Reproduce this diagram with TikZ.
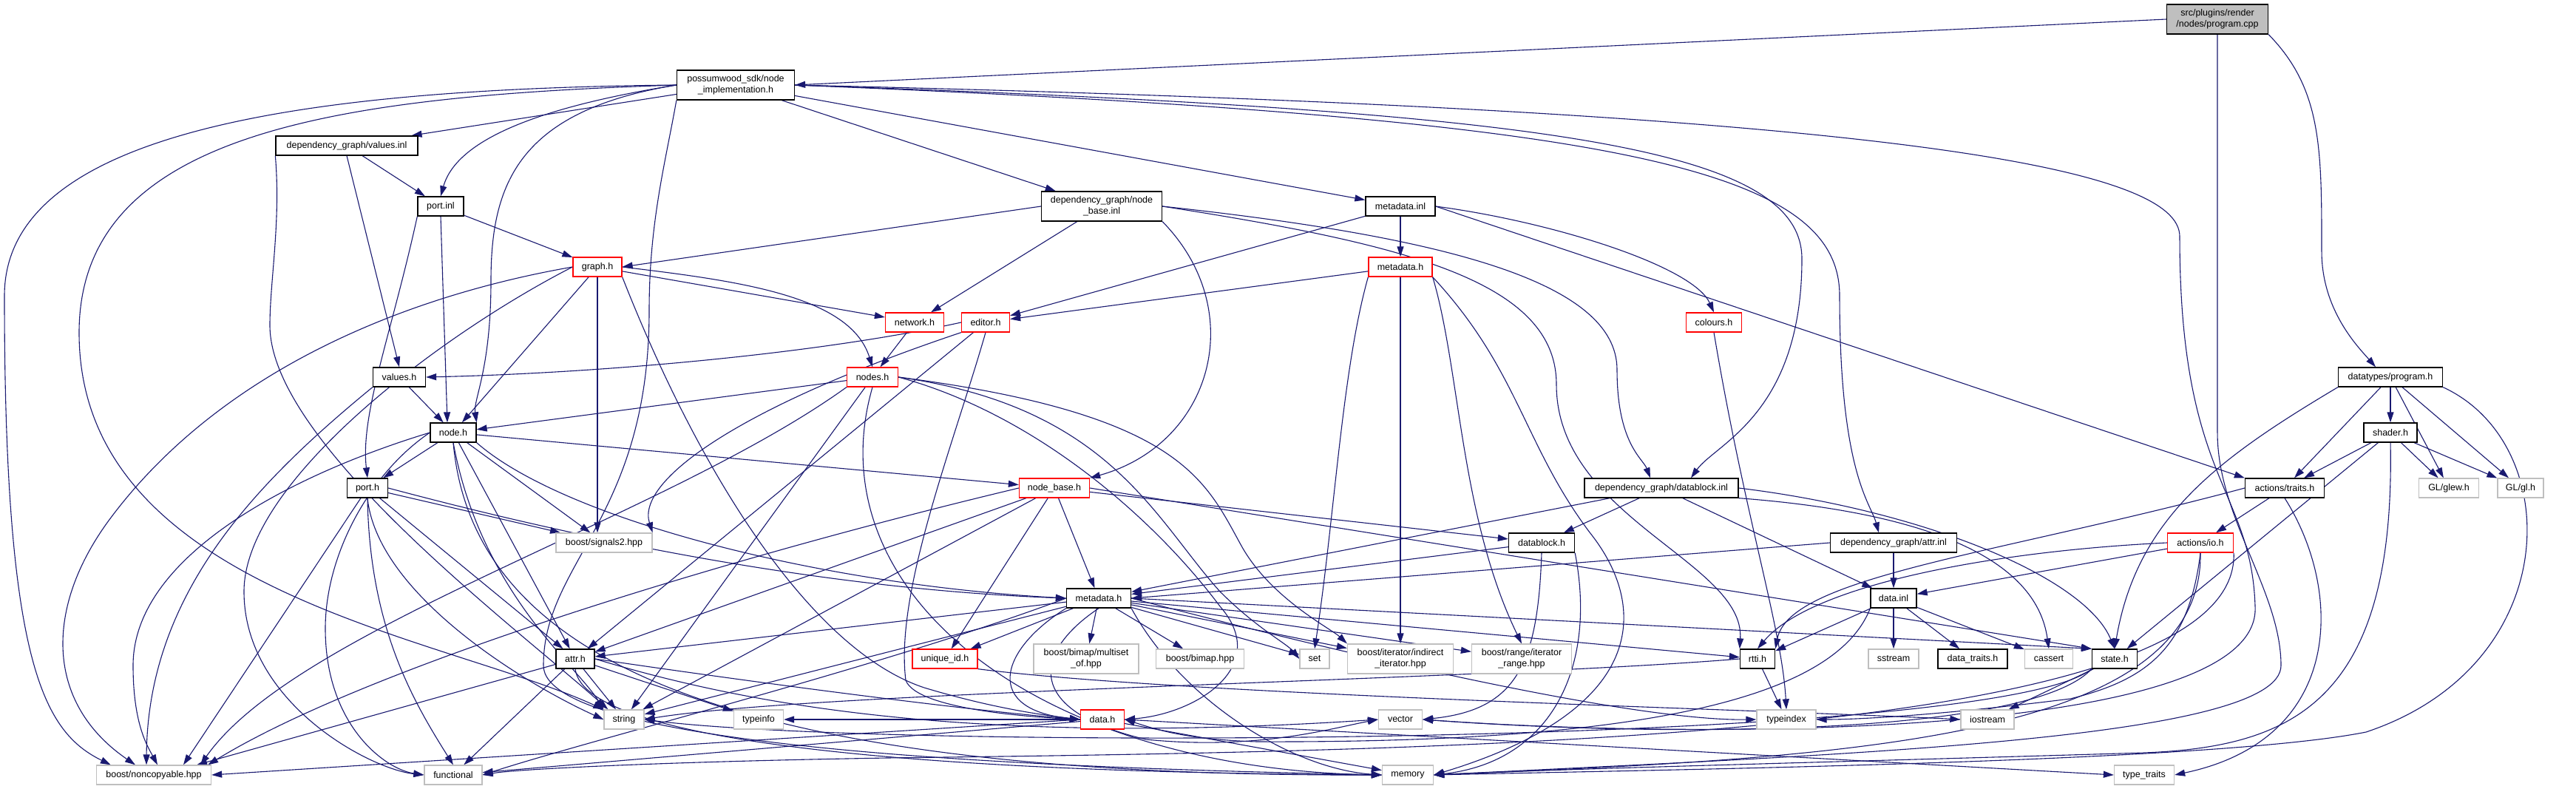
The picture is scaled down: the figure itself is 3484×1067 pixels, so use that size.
\documentclass[tikz,border=0pt]{standalone}
\usepackage{fontspec}
\setmainfont{Liberation Sans}
\usetikzlibrary{arrows.meta}
\definecolor{edgec}{HTML}{191970}
\definecolor{grayb}{HTML}{BFBFBF}
\definecolor{redb}{HTML}{FF0000}
\newcommand{\nodefont}{\fontsize{12.5}{15}\selectfont}
\pgfdeclarelayer{bglayer}
\pgfdeclarelayer{edgelayer}
\pgfsetlayers{bglayer,edgelayer,main}
\begin{document}
\begin{tikzpicture}[x=1pt,y=-1pt,
 box/.style={draw=black, fill=white, line width=1.3pt, inner sep=0pt, minimum height=26pt, font=\nodefont, align=center},
 rbox/.style={box, draw=redb},
 gbox/.style={box, draw=grayb},
 tall/.style={minimum height=40pt},
 edg/.style={draw=edgec, line width=1.1pt, -{Triangle[length=14pt,width=9pt]}}]
\useasboundingbox (0,0) rectangle (3484,1067);
\begin{pgfonlayer}{bglayer}
\fill[white] (0,0) rectangle (3484,1067);
\end{pgfonlayer}
% nodes
\node[box, fill=grayb, tall, minimum width=137pt] (root) at (2999,26) {src/plugins/render\\/nodes/program.cpp};
\node[box, tall, minimum width=159pt] (pw) at (995,115) {possumwood\_sdk/node\\\_implementation.h};
\node[box, minimum width=192pt] (valinl) at (469,197) {dependency\_graph/values.inl};
\node[box, minimum width=62pt] (portinl) at (596,279) {port.inl};
\node[box, tall, minimum width=163pt] (nbinl) at (1490,279) {dependency\_graph/node\\\_base.inl};
\node[box, minimum width=94pt] (mdinl) at (1894,279) {metadata.inl};
\node[rbox, minimum width=66pt] (graphh) at (808,361) {graph.h};
\node[rbox, minimum width=86pt] (mdha) at (1894,361) {metadata.h};
\node[rbox, minimum width=79pt] (networkh) at (1237,436) {network.h};
\node[rbox, minimum width=65pt] (editorh) at (1333,436) {editor.h};
\node[rbox, minimum width=75pt] (coloursh) at (2318,436) {colours.h};
\node[box, minimum width=71pt] (valuesh) at (540,510) {values.h};
\node[rbox, minimum width=69pt] (nodesh) at (1180,510) {nodes.h};
\node[box, minimum width=141pt] (programh) at (3233,510) {datatypes/program.h};
\node[box, minimum width=62pt] (nodeh) at (613,585) {node.h};
\node[box, minimum width=72pt] (shaderh) at (3233,585) {shader.h};
\node[box, minimum width=55pt] (porth) at (497,660) {port.h};
\node[rbox, minimum width=95pt] (nodebaseh) at (1426,660) {node\_base.h};
\node[box, minimum width=208pt] (dbinl) at (2247,660) {dependency\_graph/datablock.inl};
\node[box, minimum width=107pt] (traitsh) at (3090,660) {actions/traits.h};
\node[gbox, minimum width=81pt] (glew) at (3312,660) {GL/glew.h};
\node[gbox, minimum width=62pt] (gl) at (3409,660) {GL/gl.h};
\node[gbox, minimum width=130pt] (signals) at (817,734) {boost/signals2.hpp};
\node[box, minimum width=89pt] (datablockh) at (2085,734) {datablock.h};
\node[box, minimum width=171pt] (attrinl) at (2561,734) {dependency\_graph/attr.inl};
\node[rbox, minimum width=89pt] (ioh) at (2976,734) {actions/io.h};
\node[box, minimum width=87pt] (mdhb) at (1486,809) {metadata.h};
\node[box, minimum width=62pt] (datainl) at (2561,809) {data.inl};
\node[box, minimum width=52pt] (attrh) at (778,891) {attr.h};
\node[rbox, minimum width=88pt] (uniqueid) at (1278,891) {unique\_id.h};
\node[gbox, tall, minimum width=142pt] (multiset) at (1469,891) {boost/bimap/multiset\\\_of.hpp};
\node[gbox, minimum width=119pt] (bimap) at (1623,891) {boost/bimap.hpp};
\node[gbox, minimum width=40pt] (setn) at (1778,891) {set};
\node[gbox, tall, minimum width=143pt] (indirect) at (1894,891) {boost/iterator/indirect\\\_iterator.hpp};
\node[gbox, tall, minimum width=135pt] (range) at (2058,891) {boost/range/iterator\\\_range.hpp};
\node[box, minimum width=47pt] (rtti) at (2377,891) {rtti.h};
\node[gbox, minimum width=68pt] (sstream) at (2561,891) {sstream};
\node[box, minimum width=94pt] (datatraits) at (2668,891) {data\_traits.h};
\node[gbox, minimum width=65pt] (cassert) at (2771,891) {cassert};
\node[box, minimum width=61pt] (stateh) at (2860,891) {state.h};
\node[gbox, minimum width=54pt] (stringn) at (844,973) {string};
\node[gbox, minimum width=67pt] (typeinfo) at (1026,973) {typeinfo};
\node[rbox, minimum width=59pt] (datah) at (1491,973) {data.h};
\node[gbox, minimum width=59pt] (vector) at (1894,973) {vector};
\node[gbox, minimum width=80pt] (typeindex) at (2416,973) {typeindex};
\node[gbox, minimum width=72pt] (iostream) at (2688,973) {iostream};
\node[gbox, minimum width=155pt] (noncopy) at (208,1048) {boost/noncopyable.hpp};
\node[gbox, minimum width=78pt] (functional) at (613,1048) {functional};
\node[gbox, minimum width=69pt] (memory) at (1904,1048) {memory};
\node[gbox, minimum width=81pt] (typetraits) at (2900,1048) {type\_traits};
% edges
\begin{pgfonlayer}{edgelayer}
% root
\draw[edg] (root.west) -- (pw.east);
\draw[edg] (root.south) .. controls (2999,300) and (2999,500) .. (2999,585) .. controls (2999,700) and (3085,800) .. (3085,900) .. controls (3085,1000) and (2500,1020) .. (memory.east);
\draw[edg] (root.south east) .. controls (3140,120) and (3140,200) .. (3140,340) .. controls (3140,420) and (3190,470) .. ([xshift=-20pt]programh.north);
% possumwood
\draw[edg] (pw) -- (valinl);
\draw[edg] (pw.west) .. controls (760,140) and (620,180) .. (portinl.north);
\draw[edg] (pw.west) .. controls (700,150) and (664,250) .. (664,380) .. controls (664,500) and (640,540) .. (nodeh.north east);
\draw[edg] (pw) -- (nbinl);
\draw[edg] (pw) -- (mdinl);
\draw[edg] (pw.east) .. controls (2100,150) and (2437,200) .. (2437,350) .. controls (2437,560) and (2320,600) .. ([xshift=40pt]dbinl.north);
\draw[edg] (pw.east) .. controls (2200,160) and (2488,230) .. (2488,400) .. controls (2488,640) and (2530,680) .. ([xshift=-20pt]attrinl.north);
\draw[edg] (pw.east) .. controls (2600,150) and (2948,230) .. (2948,320) .. controls (2948,650) and (3045,660) .. (3050,820) .. controls (3060,1000) and (2300,1000) .. (vector.east);
\draw[edg] (pw.west) .. controls (400,120) and (6,180) .. (6,400) .. controls (6,900) and (60,990) .. ([xshift=20pt]noncopy.north west);
\draw[edg] (pw.west) .. controls (450,130) and (107,180) .. (107,450) .. controls (107,800) and (600,860) .. (stringn.north west);
\draw[edg] (pw.south west) .. controls (900,220) and (878,300) .. (878,420) .. controls (878,700) and (735,760) .. (735,900) .. controls (735,1020) and (1500,1040) .. (memory.west);
% values.inl
\draw[edg] (valinl) -- (portinl);
\draw[edg] (valinl.south) -- (valuesh.north);
\draw[edg] (valinl.south west) .. controls (380,300) and (365,380) .. (365,440) .. controls (365,600) and (700,850) .. ([xshift=6pt]stringn.north west);
% port.inl
\draw[edg] (portinl) -- (graphh);
\draw[edg] (portinl.south) -- ([xshift=-8pt]nodeh.north);
\draw[edg] (portinl.south west) .. controls (530,450) and (487,560) .. (porth.north);
% node_base.inl
\draw[edg] (nbinl.west) -- (graphh.east);
\draw[edg] (nbinl) -- (networkh);
\draw[edg] (nbinl.south east) .. controls (1690,420) and (1640,600) .. (nodebaseh.north east);
\draw[edg] (nbinl.east) .. controls (1950,320) and (2187,380) .. (2187,500) .. controls (2187,600) and (2222,620) .. ([xshift=-15pt]dbinl.north);
\draw[edg] (nbinl.east) .. controls (1900,330) and (2105,380) .. (2105,520) .. controls (2105,700) and (2360,760) .. (rtti.north west);
% metadata.inl
\draw[edg] (mdinl) -- (mdha);
\draw[edg] (mdinl) -- (editorh);
\draw[edg] (mdinl.east) .. controls (2100,300) and (2290,360) .. (coloursh.north);
\draw[edg] (mdinl.east) -- (traitsh.north west);
% graph.h
\draw[edg] (graphh) -- (networkh);
\draw[edg] (graphh.east) .. controls (1000,380) and (1150,400) .. (nodesh.north);
\draw[edg] (graphh) -- (nodeh);
\draw[edg] (graphh.south) -- (graphh.south |- signals.north);
\draw[edg] (graphh.west) .. controls (550,400) and (300,500) .. (150,700) .. controls (60,820) and (60,950) .. ([xshift=-25pt]noncopy.north);
\draw[edg] (graphh.west) .. controls (600,450) and (330,650) .. (330,800) .. controls (330,950) and (500,1040) .. (functional.west);
\draw[edg] (graphh.south east) .. controls (950,650) and (1100,880) .. (1250,930) .. controls (1350,960) and (1420,968) .. (datah.west);
% network.h
\draw[edg] (networkh) -- (nodesh);
% editor.h
\draw[edg] (editorh.west) .. controls (1100,480) and (800,505) .. (valuesh.east);
\draw[edg] (editorh.south west) .. controls (1000,550) and (860,650) .. (signals.north east);
\draw[edg] (editorh) -- (attrh);
\draw[edg] (editorh.south) .. controls (1290,600) and (1210,800) .. (1225,920) .. controls (1240,960) and (1400,970) .. (datah.west);
% metadata.h (red)
\draw[edg] (mdha) -- (editorh);
\draw[edg] (mdha.south west) .. controls (1815,500) and (1805,700) .. (setn.north);
\draw[edg] (mdha.south) -- (indirect.north);
\draw[edg] (mdha.south east) .. controls (1975,500) and (1975,700) .. (range.north);
\draw[edg] (mdha.south east) .. controls (2054,500) and (2060,600) .. (2150,720) .. controls (2230,820) and (2230,960) .. (memory.east);
% colours.h
\draw[edg] (coloursh.south) .. controls (2360,700) and (2410,850) .. (typeindex.north);
% values.h
\draw[edg] (valuesh) -- (nodeh);
\draw[edg] (valuesh.south west) .. controls (350,650) and (200,800) .. ([xshift=-10pt]noncopy.north);
% node.h
\draw[edg] (nodeh) -- (porth);
\draw[edg] (nodeh) -- (signals);
\draw[edg] (nodeh) -- (nodebaseh);
\draw[edg] (nodeh) -- (attrh);
\draw[edg] (nodeh.south east) .. controls (760,700) and (1100,790) .. (mdhb.west);
\draw[edg] (nodeh.west) .. controls (400,640) and (180,750) .. (180,900) .. controls (180,980) and (200,1010) .. ([xshift=5pt]noncopy.north);
\draw[edg] (nodeh.west) .. controls (500,640) and (440,750) .. (440,850) .. controls (440,980) and (520,1040) .. (functional.west);
\draw[edg] (nodeh.south) .. controls (640,900) and (1000,1050) .. (memory.west);
\draw[edg] (nodeh.south) .. controls (650,800) and (780,900) .. (stringn.north west);
% port.h
\draw[edg] (porth) -- (signals);
\draw[edg] (porth) -- (attrh);
\draw[edg] (porth) -- ([xshift=40pt]noncopy.north);
\draw[edg] (porth.south) .. controls (510,800) and (700,920) .. (stringn.west);
\draw[edg] (porth.east) .. controls (900,760) and (1200,800) .. (mdhb.west);
\draw[edg] (porth.south) .. controls (500,850) and (560,950) .. (functional.north);
% nodes.h
\draw[edg] (nodesh) -- (nodeh);
\draw[edg] (nodesh) -- (stringn);
\draw[edg] (nodesh.east) .. controls (1500,550) and (1560,700) .. (1650,800) .. controls (1700,850) and (1740,870) .. (setn.west);
\draw[edg] (nodesh.east) .. controls (1600,560) and (1630,650) .. (1680,740) .. controls (1720,810) and (1800,850) .. (indirect.north west);
\draw[edg] (nodesh.south west) .. controls (900,700) and (400,850) .. ([xshift=-15pt]noncopy.north east);
\draw[edg] (nodesh.south) .. controls (1100,800) and (1400,1040) .. (memory.west);
\draw[edg] (nodesh.east) .. controls (1400,560) and (1560,700) .. (1650,820) .. controls (1720,900) and (1620,965) .. (datah.east);
% node_base.h
\draw[edg] (nodebaseh) -- (mdhb);
\draw[edg] (nodebaseh) -- (datablockh);
\draw[edg] (nodebaseh) -- (uniqueid);
\draw[edg] (nodebaseh) -- (stringn);
\draw[edg] (nodebaseh.east) -- (stateh.north west);
\draw[edg] (nodebaseh) -- (attrh);
\draw[edg] (nodebaseh.west) .. controls (1000,750) and (500,900) .. ([xshift=-5pt]noncopy.north east);
% datablock.inl
\draw[edg] (dbinl) -- (mdhb);
\draw[edg] (dbinl) -- (datablockh);
\draw[edg] (dbinl) -- (datainl);
\draw[edg] (dbinl.south east) .. controls (2700,700) and (2760,800) .. (cassert.north);
\draw[edg] (dbinl.east) .. controls (2600,690) and (2820,780) .. (stateh.north);
% datablock.h
\draw[edg] (datablockh) -- (mdhb);
\draw[edg] (datablockh.south) .. controls (2080,900) and (2050,960) .. (vector.east);
\draw[edg] (datablockh.south east) .. controls (2160,900) and (2100,1030) .. (memory.east);
% attr.inl
\draw[edg] (attrinl) -- (datainl);
\draw[edg] (attrinl.west) -- (mdhb.east);
% metadata.h (black)
\draw[edg] (mdhb) -- (uniqueid);
\draw[edg] (mdhb) -- (multiset);
\draw[edg] (mdhb) -- (bimap);
\draw[edg] (mdhb) -- (setn);
\draw[edg] (mdhb) -- (indirect);
\draw[edg] (mdhb) -- (range);
\draw[edg] (mdhb.south west) .. controls (1350,880) and (1330,960) .. (datah.west);
\draw[edg] (mdhb.south) .. controls (1400,880) and (1380,960) .. (1550,1000) .. controls (1700,1015) and (1800,985) .. (vector.west);
\draw[edg] (mdhb) -- (attrh);
\draw[edg] (mdhb) -- (stringn);
\draw[edg] (mdhb) -- (rtti);
\draw[edg] (mdhb.east) -- (stateh.north west);
\draw[edg] (mdhb.west) .. controls (1200,900) and (800,1000) .. (functional.east);
\draw[edg] (mdhb.south east) .. controls (1600,950) and (1750,1040) .. (memory.west);
\draw[edg] (mdhb.east) .. controls (1800,880) and (2200,975) .. (typeindex.west);
% attr.h
\draw[edg] (attrh) -- (stringn);
\draw[edg] (attrh) -- (typeinfo);
\draw[edg] (attrh) -- ([xshift=-20pt]noncopy.north east);
\draw[edg] (attrh) -- (functional);
\draw[edg] (attrh.south) .. controls (790,1010) and (1300,1045) .. (memory.west);
\draw[edg] (attrh.east) .. controls (1000,950) and (1300,1010) .. (vector.west);
\draw[edg] (attrh.east) .. controls (1000,920) and (1300,960) .. (datah.west);
% unique_id.h
\draw[edg] (uniqueid.south east) .. controls (1600,940) and (2400,960) .. (iostream.west);
% data.h
\draw[edg] (datah) -- (functional);
\draw[edg] (datah) -- (memory);
\draw[edg] (datah.west) -- (noncopy.east);
\draw[edg] (datah.east) -- (typetraits.west);
\draw[edg] (datah.west) -- (typeinfo.east);
% data.inl
\draw[edg] (datainl) -- (rtti);
\draw[edg] (datainl) -- (sstream);
\draw[edg] (datainl) -- (datatraits);
\draw[edg] (datainl) -- (cassert);
\draw[edg] (datainl.south west) .. controls (2480,950) and (2200,1005) .. (1700,1003) .. controls (1600,1000) and (1560,985) .. (datah.east);
% rtti.h
\draw[edg] (rtti.west) .. controls (2000,920) and (1100,935) .. (stringn.east);
\draw[edg] (rtti) -- (typeindex);
% state.h
\draw[edg] (stateh) -- (iostream);
\draw[edg] (stateh.south west) .. controls (2750,990) and (2300,1000) .. (vector.east);
\draw[edg] (stateh.south west) .. controls (2700,1010) and (1200,1015) .. (stringn.east);
% actions/traits.h
\draw[edg] (traitsh) -- (ioh);
\draw[edg] (traitsh.west) .. controls (2700,750) and (2420,780) .. (rtti.north east);
\draw[edg] (traitsh.south) .. controls (3170,800) and (3170,1000) .. (typetraits.east);
% actions/io.h
\draw[edg] (ioh) -- (datainl);
\draw[edg] (ioh.west) .. controls (2700,745) and (2450,790) .. (rtti.north);
\draw[edg] (ioh.south) .. controls (2960,880) and (2900,920) .. (2800,945) .. controls (2600,970) and (2500,973) .. (typeindex.east);
\draw[edg] (ioh.south) .. controls (2980,1000) and (2500,1025) .. (memory.east);
\draw[edg] (ioh.south east) .. controls (3030,1000) and (2000,1015) .. (1200,1025) .. controls (900,1030) and (700,1040) .. (functional.east);
% datatypes/program.h
\draw[edg] (programh) -- (shaderh);
\draw[edg] (programh) -- (traitsh);
\draw[edg] (programh) -- (glew);
\draw[edg] (programh) -- (gl);
\draw[edg] (programh.south west) .. controls (3000,620) and (2890,700) .. (stateh.north);
\draw[edg] (programh.south east) .. controls (3470,600) and (3470,900) .. (3200,990) .. controls (3000,1030) and (2300,1040) .. (memory.east);
% shader.h
\draw[edg] (shaderh) -- (traitsh);
\draw[edg] (shaderh) -- (glew);
\draw[edg] (shaderh) -- (gl);
\draw[edg] (shaderh) -- (stateh);
\draw[edg] (shaderh.south) .. controls (3240,950) and (3100,1010) .. (2900,1018) .. controls (2500,1030) and (2100,1040) .. (memory.east);
\end{pgfonlayer}
\end{tikzpicture}
\end{document}
